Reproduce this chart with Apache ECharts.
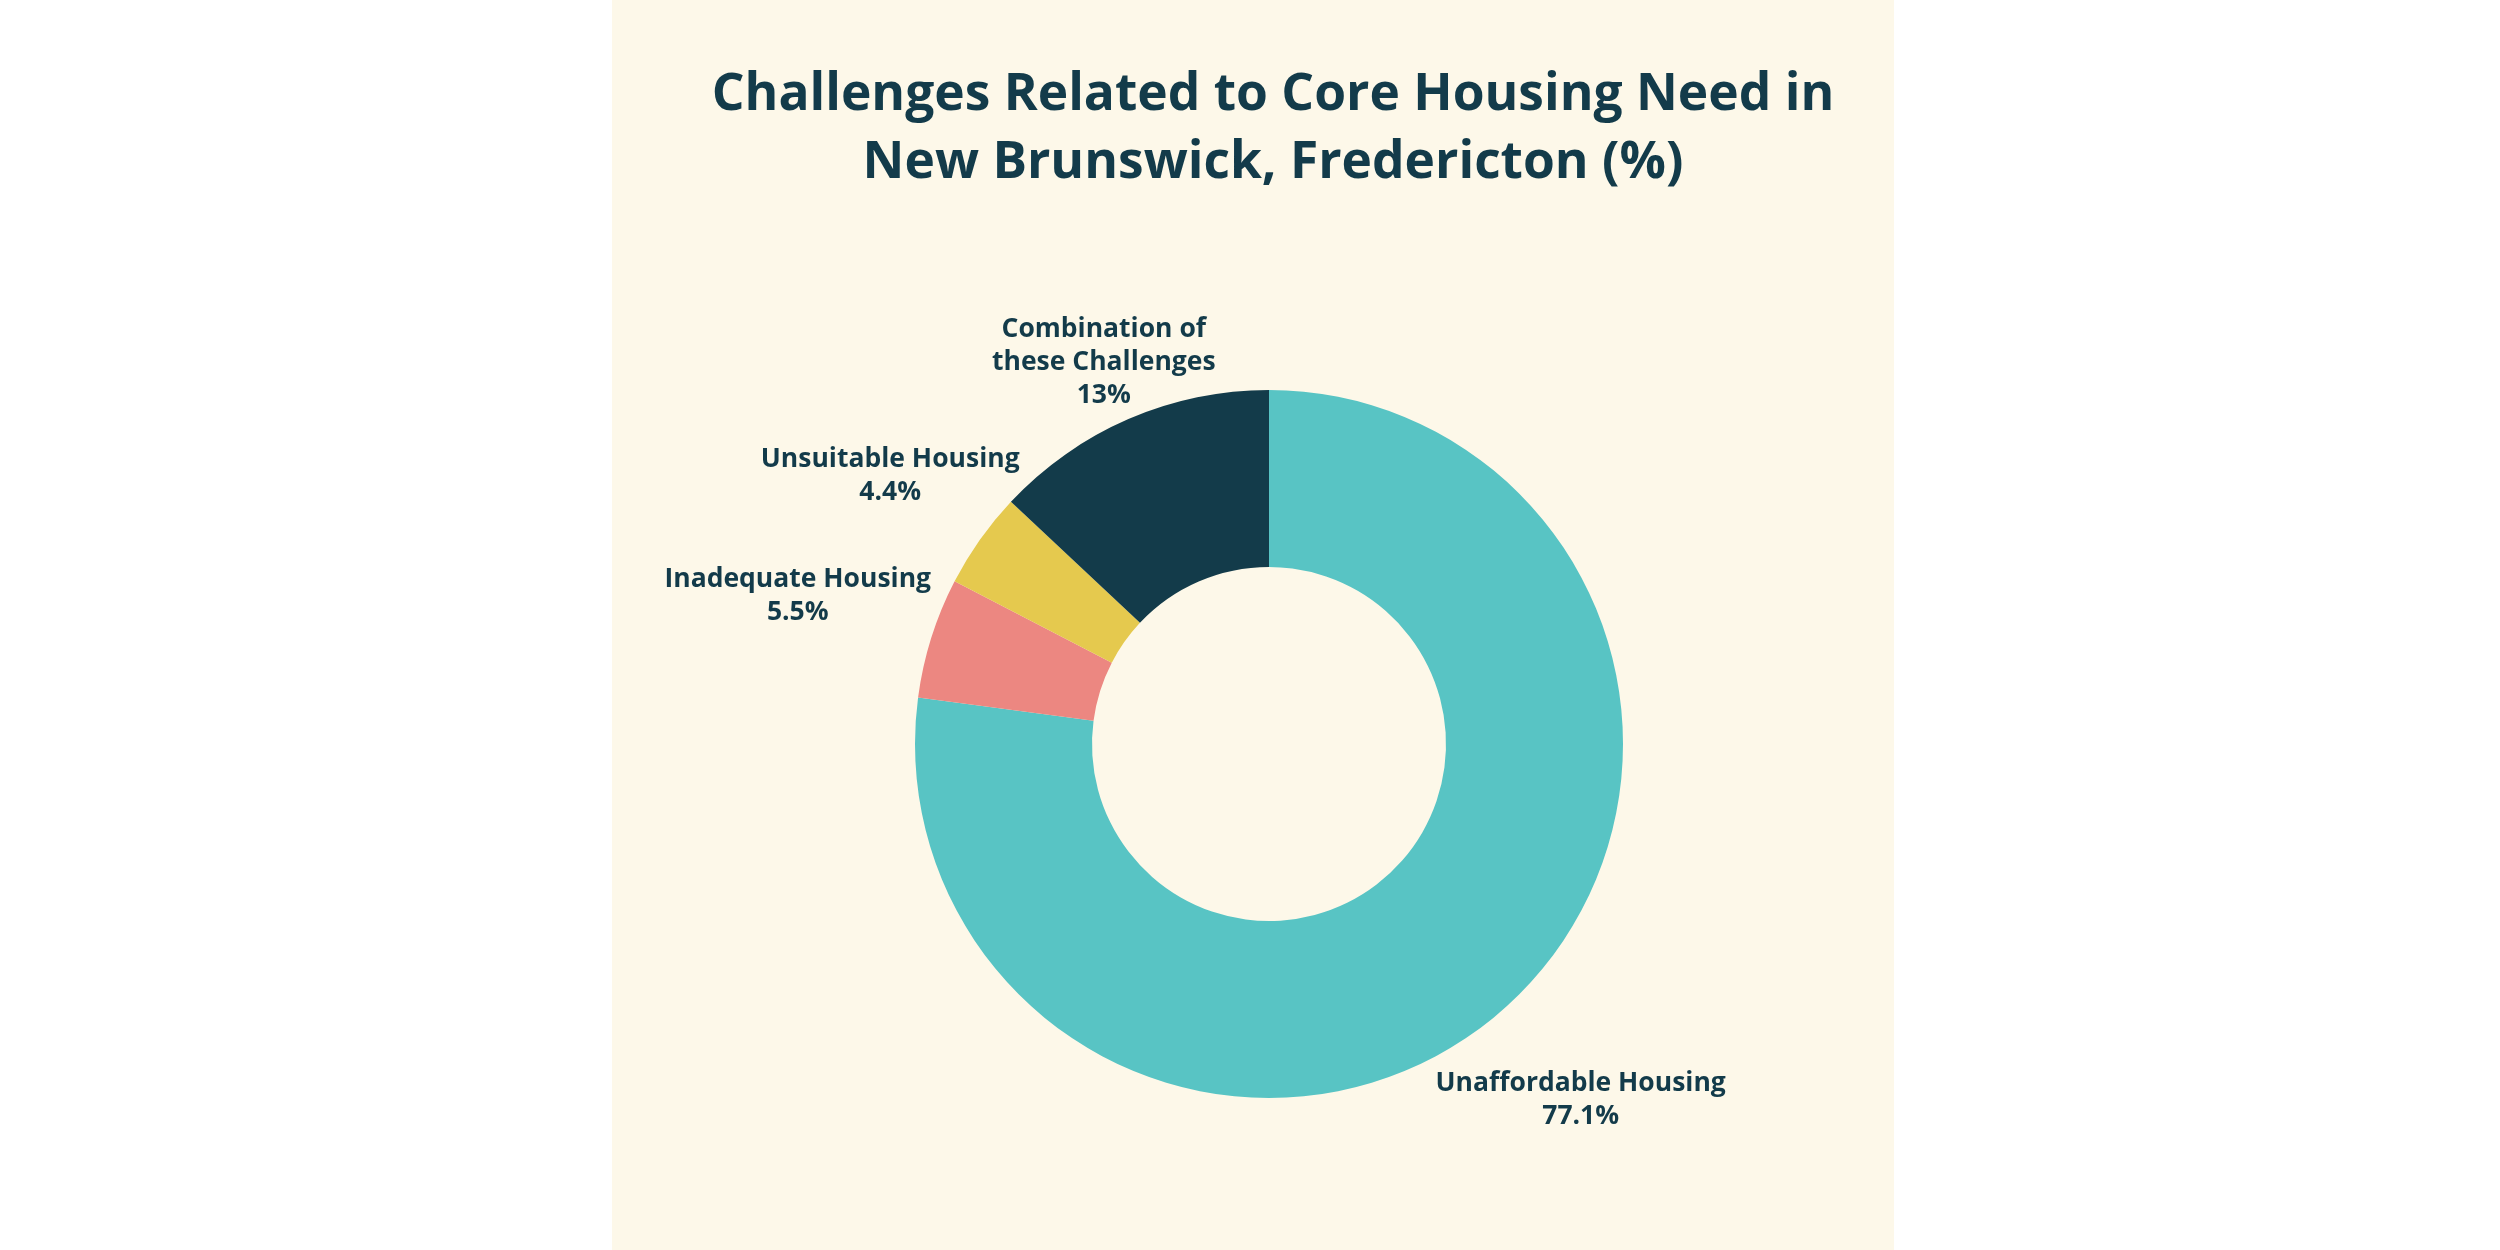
<!DOCTYPE html>
<html>
<head>
<meta charset="utf-8">
<script src="https://cdn.jsdelivr.net/npm/echarts@6/dist/echarts.min.js"></script>
<style>
  html, body { margin: 0; padding: 0; background: #ffffff; width: 2500px; height: 1250px; overflow: hidden; }
  #chart { position: absolute; left: 612px; top: 0; width: 1282px; height: 1250px; }
</style>
</head>
<body>
<div id="chart"></div>
<script>
// ---- data ----
const categories = ['Unaffordable Housing', 'Inadequate Housing', 'Unsuitable Housing', 'Combination of\nthese Challenges'];
const values = [77.1, 5.5, 4.4, 13];

// ---- styles ----
const sliceColors = ['#58C4C4', '#EC8781', '#E5C94E', '#133B4A'];
const labelRadialOffsets = [119, 140, 110, 62];
const textColor = '#133B4A';
const fontFamily = '"Open Sans", "Noto Sans", sans-serif';

const pieData = categories.map((name, i) => ({
  name: name,
  value: values[i],
  itemStyle: { color: sliceColors[i] },
  labelLine: { show: false, length: labelRadialOffsets[i], length2: 0 }
}));

const chart = echarts.init(document.getElementById('chart'), null, { renderer: 'canvas' });
chart.setOption({
  backgroundColor: '#FDF8E9',
  animation: false,
  title: {
    text: 'Challenges Related to Core Housing Need in\nNew Brunswick, Fredericton (%)',
    left: 656,
    top: 56,
    textAlign: 'center',
    textStyle: {
      fontFamily: fontFamily,
      fontSize: 51.5,
      fontWeight: 'bold',
      lineHeight: 68,
      color: textColor
    }
  },
  series: [{
    type: 'pie',
    center: [657, 744],
    radius: [177, 354],
    startAngle: 90,
    clockwise: true,
    avoidLabelOverlap: false,
    emphasis: { disabled: true },
    label: {
      show: true,
      position: 'outside',
      formatter: (p) => p.name + '\n' + p.value + '%',
      fontFamily: fontFamily,
      fontSize: 26.5,
      fontWeight: 'bold',
      lineHeight: 33,
      color: textColor,
      distanceToLabelLine: 0
    },
    labelLine: { show: false, length2: 0 },
    labelLayout: { align: 'center' },
    data: pieData
  }]
});
</script>
</body>
</html>
